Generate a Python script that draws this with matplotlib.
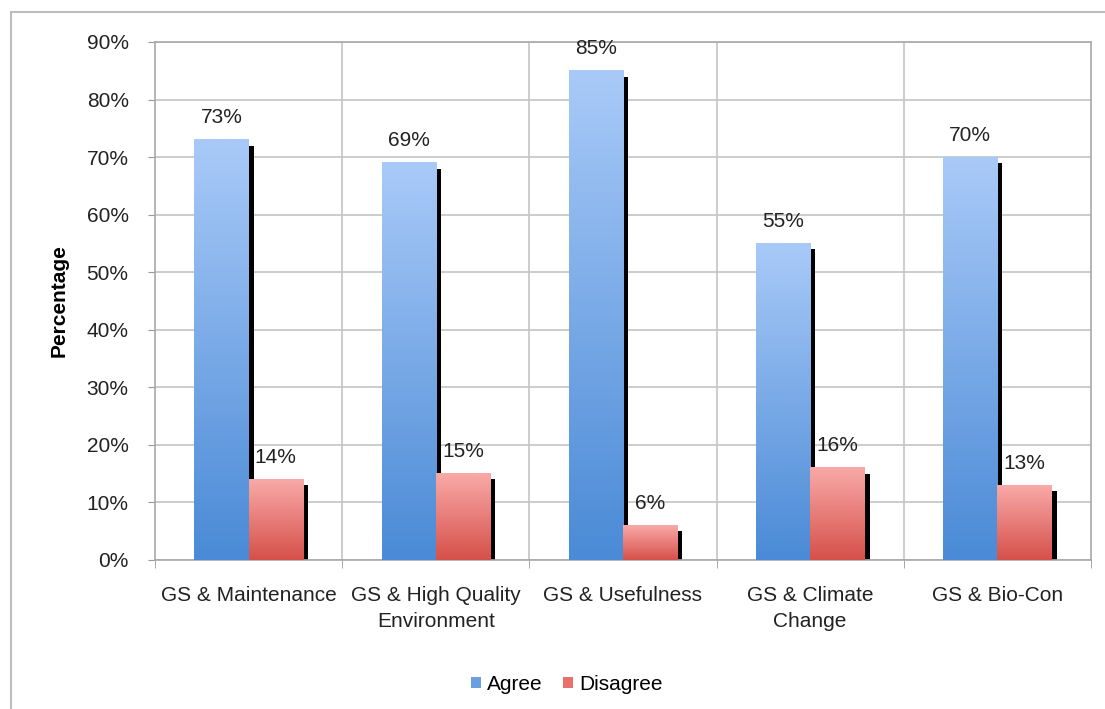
import matplotlib
matplotlib.use("Agg")
import matplotlib.pyplot as plt
import numpy as np
from matplotlib.colors import LinearSegmentedColormap
from matplotlib.patches import Rectangle

categories = ["GS & Maintenance", "GS & High Quality\nEnvironment", "GS & Usefulness",
              "GS & Climate\nChange", "GS & Bio-Con"]
agree = [73, 69, 85, 55, 70]
disagree = [14, 15, 6, 16, 13]
series_names = ["Agree", "Disagree"]
yticks = [0, 10, 20, 30, 40, 50, 60, 70, 80, 90]

plt.rcParams['font.family'] = ['Liberation Sans', 'DejaVu Sans']

fig = plt.figure(figsize=(11.05, 7.09), dpi=100)
ax = fig.add_axes([0.1403, 0.2102, 0.9873 - 0.1403, 0.9408 - 0.2102])

blue_cmap = LinearSegmentedColormap.from_list("b", ["#4A8AD6", "#A9CAF8"])
red_cmap = LinearSegmentedColormap.from_list("r", ["#D6504A", "#F9AAA8"])

bw = 0.29
sw = 0.027
grad = np.linspace(0, 1, 256).reshape(-1, 1)
x = np.arange(len(categories))

for i in range(len(categories)):
    for vals, cmap, off in ((agree, blue_cmap, -bw), (disagree, red_cmap, 0.0)):
        v = vals[i]
        x0 = x[i] + off
        # shadow
        ax.add_patch(Rectangle((x0 + bw, 0), sw, v - 1, facecolor="black",
                               edgecolor="none", zorder=2))
        ax.imshow(grad, cmap=cmap, origin="lower", aspect="auto",
                  extent=(x0, x0 + bw, 0, v), zorder=3, interpolation="bilinear")
        ax.annotate(f"{v}%", (x0 + bw / 2, v), xytext=(0, 9), textcoords="offset points",
                    ha="center", va="bottom", fontsize=15, color="#222222", zorder=4)

ax.set_xlim(-0.5, len(categories) - 0.5)
ax.set_ylim(0, 90)
ax.set_yticks(yticks)
ax.set_yticklabels([f"{t}%" for t in yticks], fontsize=15, color="#222222")
ax.set_xticks(x)
ax.set_xticklabels(categories, fontsize=15, color="#222222", linespacing=1.45)
ax.tick_params(axis="x", length=0, pad=19)
ax.tick_params(axis="y", length=5, color="#999999", pad=14)
ax.set_xticks(np.arange(len(categories) + 1) - 0.5, minor=True)
ax.tick_params(axis="x", which="minor", length=6, color="#999999")

for yv in yticks:
    ax.axhline(yv, color="#C4C4C4", lw=1.2, zorder=0.5)
for xv in np.arange(1, len(categories)) - 0.5:
    ax.axvline(xv, color="#C4C4C4", lw=1.2, zorder=0.5)
for s in ax.spines.values():
    s.set_color("#A8A8A8")
    s.set_linewidth(1.2)

ax.set_ylabel("Percentage", fontsize=15, fontweight="bold", labelpad=13)

handles = [Rectangle((0, 0), 1, 1, facecolor="#6A9FE0"),
           Rectangle((0, 0), 1, 1, facecolor="#E8716C")]
fig.legend(handles, series_names, loc="center", bbox_to_anchor=(0.513, 0.035), ncol=2,
           frameon=False, fontsize=15, handlelength=0.45, handleheight=0.45,
           handletextpad=0.3, columnspacing=1.0)

fig.patches.append(Rectangle((0.00995, -0.05), 1.1, 0.983 + 0.05, transform=fig.transFigure,
                             fill=False, edgecolor="#BDBDBD", lw=1.5))

fig.savefig("out.png", dpi=100)
